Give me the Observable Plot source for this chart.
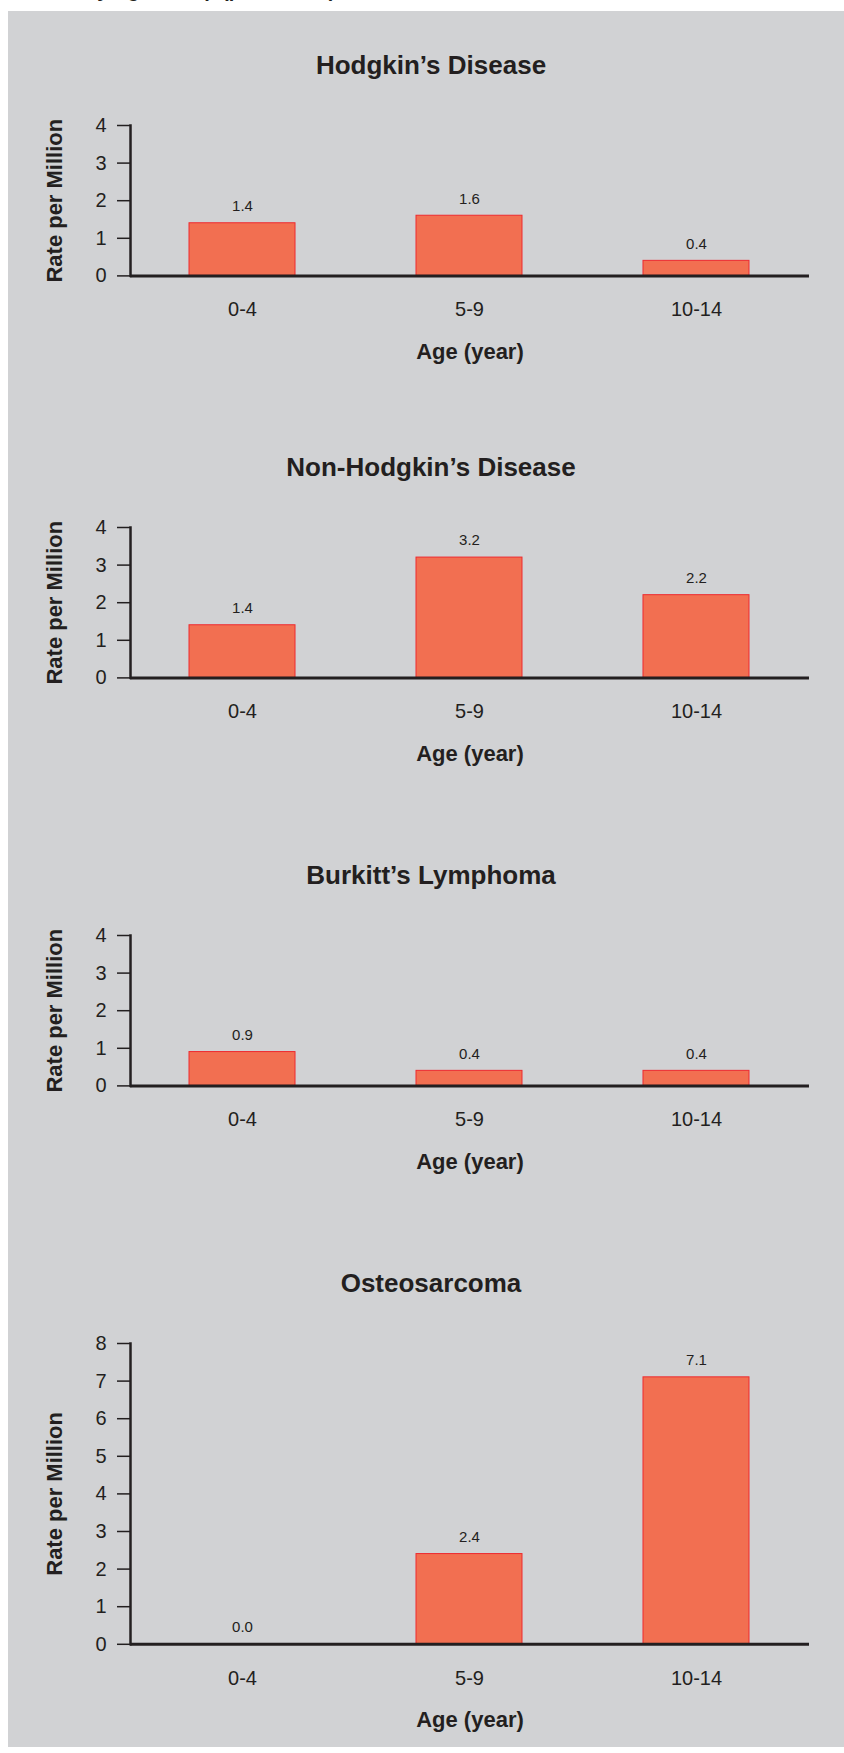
<!DOCTYPE html>
<html>
<head>
<meta charset="utf-8">
<script src="https://cdn.jsdelivr.net/npm/d3@7"></script>
<script src="https://cdn.jsdelivr.net/npm/@observablehq/plot@0.6"></script>
<style>
  html, body { margin: 0; padding: 0; background: #ffffff; }
  body {
    width: 844px; height: 1753px; position: relative; overflow: hidden;
    font-family: "Liberation Sans", Arial, Helvetica, sans-serif; color: #231f20;
  }
  #caption { position: absolute; left: 0; top: 0; width: 844px; height: 11px; overflow: hidden; }
  #caption span {
    position: absolute; left: 85px; top: -20px; font-size: 20px; line-height: 20px;
    font-weight: bold; white-space: nowrap;
  }
  #panel { position: absolute; left: 8px; top: 11px; width: 836px; height: 1736px; background: #d1d2d4; }
  .title {
    position: absolute; left: 10px; width: 826px; text-align: center;
    font-size: 26px; line-height: 26px; font-weight: bold; white-space: nowrap;
  }
  #panel svg { position: absolute; left: 0; overflow: visible; }
</style>
</head>
<body>
<div id="caption"><span>by Age Group (per Million)</span></div>
<div id="panel"></div>
<script>
// Age groups on the x axis
const ageGroups = ["0-4", "5-9", "10-14"];

// Chart titles, one per histologic type
const diseaseNames = ["Hodgkin’s Disease", "Non-Hodgkin’s Disease", "Burkitt’s Lymphoma", "Osteosarcoma"];

// Incidence rate per million, by age group
const hodgkinRates = [1.4, 1.6, 0.4];
const nonHodgkinRates = [1.4, 3.2, 2.2];
const burkittRates = [0.9, 0.4, 0.4];
const osteosarcomaRates = [0.0, 2.4, 7.1];

// Y tick values
const yTicksSmall = [0, 1, 2, 3, 4];
const yTicksLarge = [0, 1, 2, 3, 4, 5, 6, 7, 8];

// Axis titles
const xLabel = "Age (year)";
const yLabel = "Rate per Million";

const seriesRates = [hodgkinRates, nonHodgkinRates, burkittRates, osteosarcomaRates];
const seriesTicks = [yTicksSmall, yTicksSmall, yTicksSmall, yTicksLarge];

// Layout: page y of each chart's zero line, pixels per rate unit
const zeroLineY = [275, 677, 1085, 1644];
const unitPx = 37.6;
const panelTop = 11;
const mTop = 20, mBottom = 100;

const ink = "#231f20";
const font = "'Liberation Sans', Arial, Helvetica, sans-serif";
const panel = document.getElementById("panel");

seriesRates.forEach((rates, i) => {
  const ticks = seriesTicks[i];
  const yMax = ticks[ticks.length - 1];
  const plotH = yMax * unitPx;
  const rows = ageGroups.map((age, j) => ({age, rate: rates[j]}));

  // title above each chart
  const title = document.createElement("div");
  title.className = "title";
  title.textContent = diseaseNames[i];
  title.style.top = (zeroLineY[i] - plotH - 51 - 22 - panelTop) + "px";
  panel.appendChild(title);

  const chart = Plot.plot({
    width: 836,
    height: mTop + plotH + mBottom,
    marginLeft: 122,
    marginRight: 35,
    marginTop: mTop,
    marginBottom: mBottom,
    style: {background: "transparent", color: ink, fontFamily: font, overflow: "visible"},
    x: {domain: ageGroups, paddingInner: 0.533, paddingOuter: 0.26, label: null},
    y: {domain: [0, yMax], label: null},
    marks: [
      Plot.barY(rows, {x: "age", y: "rate", fill: "#f26f51", stroke: "#ee2a2f", strokeWidth: 1}),
      Plot.text(rows, {x: "age", y: "rate", text: d => d.rate.toFixed(1), dy: -17, fontSize: 15, fill: ink}),
      Plot.axisY({ticks, tickSize: 13, tickPadding: 11, fontSize: 20, strokeWidth: 1.5, tickFormat: d => String(d), label: null}),
      Plot.axisX({tickSize: 0, tickPadding: 26, fontSize: 20, label: null}),
      Plot.frame({anchor: "left", strokeWidth: 2.5, stroke: ink}),
      Plot.ruleY([0], {strokeWidth: 3, stroke: ink}),
      Plot.text([xLabel], {text: d => d, frameAnchor: "bottom", lineAnchor: "middle", textAnchor: "middle", dy: 76, fontSize: 22, fontWeight: "bold", fill: ink}),
      Plot.text([yLabel], {text: d => d, frameAnchor: "left", lineAnchor: "middle", textAnchor: "middle", rotate: -90, dx: -76, fontSize: 22, fontWeight: "bold", fill: ink})
    ]
  });
  chart.style.top = (zeroLineY[i] - plotH - mTop - panelTop) + "px";
  panel.appendChild(chart);
});
</script>
</body>
</html>
